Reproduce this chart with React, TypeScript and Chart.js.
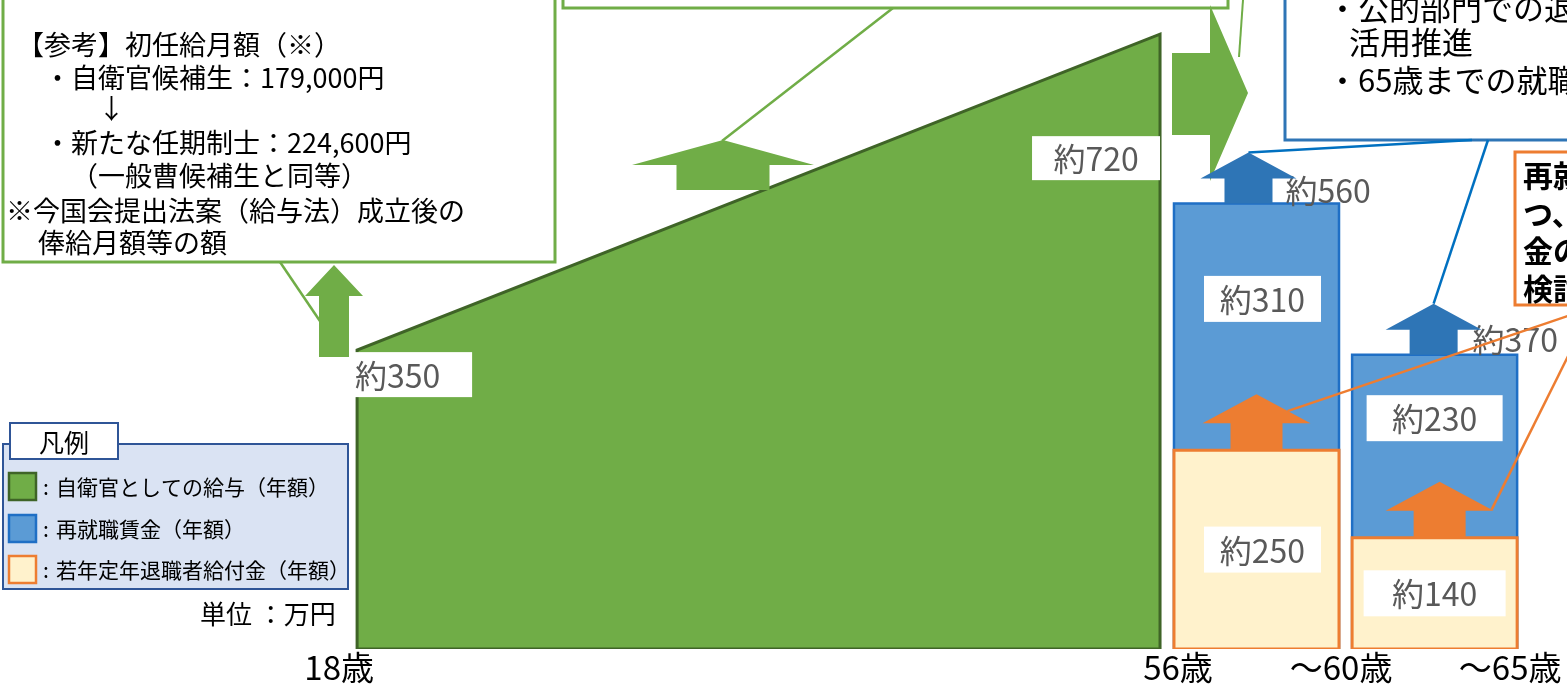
import React, { useEffect, useRef } from 'react';
import { Chart, registerables } from 'chart.js';

Chart.register(...registerables);

const FONT = '"Noto Sans CJK JP", "Noto Sans", sans-serif';

// schematic timeline axis (display units)
const stageTickLabels = ['18歳', '56歳', '～60歳', '～65歳'];
const stageTickPositions = [17.15, 56.85, 64.57, 72.57];
const X_MIN = 1.1;
const X_MAX = 75.26;

// 自衛官としての給与（年額）
const careerAges = [18, 56];
const careerSalary = [350, 720];

// 56歳以降の期間（表示上の区間）
const postStageStart = [56.66, 65.09];
const postStageEnd = [64.47, 72.9];
const retirementBenefit = [250, 140]; // 若年定年退職者給付金（年額）
const reemploymentWage = [310, 230]; // 再就職賃金（年額）

const SALARY_AXIS_MAX = 760;
const POST_AXIS_MAX = 816;

const legendLabels = ['自衛官としての給与（年額）', '再就職賃金（年額）', '若年定年退職者給付金（年額）'];

const GREEN = '#70ad47';
const GREEN_DARK = '#3f6427';
const BLUE_FILL = '#5b9bd5';
const BLUE_BORDER = '#1f6fc5';
const BLUE_ARROW = '#2e75b6';
const ORANGE = '#ed7d31';
const CREAM = '#fff2cc';
const LABEL_GRAY = '#595959';
const TRANSPARENT = 'rgba(0,0,0,0)';

const totals = retirementBenefit.map((b, i) => b + reemploymentWage[i]);

function rectOutline(i: number, lo: number, hi: number) {
  return [
    { x: postStageStart[i], y: lo },
    { x: postStageStart[i], y: hi },
    { x: postStageEnd[i], y: hi },
    { x: postStageEnd[i], y: lo },
    { x: postStageStart[i], y: lo },
  ];
}

function buildDatasets() {
  const base: any = { pointRadius: 0, pointHoverRadius: 0, tension: 0, borderJoinStyle: 'miter' };
  const ds: any[] = [];
  postStageStart.forEach((_, i) => {
    ds.push({ ...base, label: '若年定年退職者給付金 枠', yAxisID: 'y2', data: rectOutline(i, 0, retirementBenefit[i]), borderColor: ORANGE, borderWidth: 3, fill: false });
  });
  postStageStart.forEach((s, i) => {
    ds.push({ ...base, label: '若年定年退職者給付金', yAxisID: 'y2', data: [{ x: s, y: retirementBenefit[i] }, { x: postStageEnd[i], y: retirementBenefit[i] }], borderColor: TRANSPARENT, borderWidth: 0, fill: 'origin', backgroundColor: CREAM });
  });
  postStageStart.forEach((_, i) => {
    ds.push({ ...base, label: '再就職賃金 枠', yAxisID: 'y2', data: rectOutline(i, 0, totals[i]), borderColor: BLUE_BORDER, borderWidth: 2.5, fill: false });
  });
  postStageStart.forEach((s, i) => {
    ds.push({ ...base, label: '再就職賃金', yAxisID: 'y2', data: [{ x: s, y: totals[i] }, { x: postStageEnd[i], y: totals[i] }], borderColor: TRANSPARENT, borderWidth: 0, fill: 'origin', backgroundColor: BLUE_FILL });
  });
  ds.push({
    ...base, label: '自衛官としての給与 枠', yAxisID: 'y',
    data: [
      { x: careerAges[0], y: 0 }, { x: careerAges[0], y: careerSalary[0] },
      { x: careerAges[1], y: careerSalary[1] }, { x: careerAges[1], y: 0 }, { x: careerAges[0], y: 0 },
    ],
    borderColor: GREEN_DARK, borderWidth: 3, fill: false,
  });
  ds.push({
    ...base, label: '自衛官としての給与', yAxisID: 'y',
    data: careerAges.map((a, i) => ({ x: a, y: careerSalary[i] })),
    borderColor: TRANSPARENT, borderWidth: 0, fill: 'origin', backgroundColor: GREEN,
  });
  return ds;
}

function txt(ctx: CanvasRenderingContext2D, s: string, x: number, y: number, size: number, color = '#000', align: CanvasTextAlign = 'left', weight = 'normal') {
  ctx.font = `${weight} ${size}px ${FONT}`;
  ctx.fillStyle = color;
  ctx.textAlign = align;
  ctx.textBaseline = 'middle';
  ctx.fillText(s, x, y);
}

function upArrow(ctx: CanvasRenderingContext2D, cx: number, tipY: number, bottomY: number, headW: number, shaftW: number, headH: number, color: string) {
  ctx.beginPath();
  ctx.moveTo(cx, tipY);
  ctx.lineTo(cx + headW / 2, tipY + headH);
  ctx.lineTo(cx + shaftW / 2, tipY + headH);
  ctx.lineTo(cx + shaftW / 2, bottomY);
  ctx.lineTo(cx - shaftW / 2, bottomY);
  ctx.lineTo(cx - shaftW / 2, tipY + headH);
  ctx.lineTo(cx - headW / 2, tipY + headH);
  ctx.closePath();
  ctx.fillStyle = color;
  ctx.fill();
}

function line(ctx: CanvasRenderingContext2D, x1: number, y1: number, x2: number, y2: number, color: string, w: number) {
  ctx.beginPath();
  ctx.moveTo(x1, y1);
  ctx.lineTo(x2, y2);
  ctx.strokeStyle = color;
  ctx.lineWidth = w;
  ctx.stroke();
}

function box(ctx: CanvasRenderingContext2D, x: number, y: number, w: number, h: number, fill: string, stroke: string, lw: number) {
  ctx.fillStyle = fill;
  ctx.fillRect(x, y, w, h);
  ctx.strokeStyle = stroke;
  ctx.lineWidth = lw;
  ctx.strokeRect(x, y, w, h);
}

function valueBox(ctx: CanvasRenderingContext2D, s: string, x: number, y: number, w: number, h: number, align: CanvasTextAlign = 'center') {
  ctx.fillStyle = '#fff';
  ctx.fillRect(x, y, w, h);
  txt(ctx, s, align === 'left' ? x + 3 : x + w / 2, y + h / 2 + 1, 32, LABEL_GRAY, align);
}

const infographicPlugin = {
  id: 'infographic',
  afterDraw(chart: any) {
    const ctx: CanvasRenderingContext2D = chart.ctx;
    const xs = chart.scales.x;
    const ys = chart.scales.y;
    const y2 = chart.scales.y2;
    ctx.save();
    ctx.lineJoin = 'miter';

    // ---- top-left reference box ----
    line(ctx, 280, 262, 326, 330, GREEN, 2.5);
    box(ctx, 3, -10, 552, 272, '#fff', GREEN, 3);
    const refLines: [string, number, number][] = [
      ['【参考】初任給月額（※）', 17, 45],
      ['・自衛官候補生：179,000円', 44, 78],
      ['↓', 98, 109],
      ['・新たな任期制士：224,600円', 44, 143],
      ['（一般曹候補生と同等）', 71, 176],
      ['※今国会提出法案（給与法）成立後の', 6, 211],
      ['俸給月額等の額', 38, 243],
    ];
    refLines.forEach(([s, x, y]) => txt(ctx, s, x, y, 27));

    // ---- top-middle box ----
    line(ctx, 893, 8, 722, 141, GREEN, 2.5);
    box(ctx, 563, -10, 665, 18, '#fff', GREEN, 3);
    line(ctx, 1243, 0, 1239, 57, GREEN, 2);

    // ---- green arrows ----
    upArrow(ctx, 334, 265, 357, 58, 30, 31, GREEN);
    upArrow(ctx, 723, 140, 190, 182, 93, 25, GREEN);
    ctx.beginPath();
    ctx.moveTo(1172, 53);
    ctx.lineTo(1210, 53);
    ctx.lineTo(1210, 5);
    ctx.lineTo(1248, 93);
    ctx.lineTo(1210, 181);
    ctx.lineTo(1210, 135);
    ctx.lineTo(1172, 135);
    ctx.closePath();
    ctx.fillStyle = GREEN;
    ctx.fill();

    // ---- top-right blue box ----
    box(ctx, 1285, -10, 330, 150, '#fff', BLUE_ARROW, 3);
    txt(ctx, '・公的部門での退職自衛官の', 1327, 8, 31);
    txt(ctx, '活用推進', 1349, 42, 31);
    txt(ctx, '・65歳までの就職援護', 1327, 80, 31);

    // ---- orange box ----
    box(ctx, 1515, 152, 100, 153, '#fff', ORANGE, 3);
    txt(ctx, '再就職賃金の状況を', 1523, 176, 30, '#000', 'left', 'bold');
    txt(ctx, 'つ、若年定年退職者', 1523, 214, 30, '#000', 'left', 'bold');
    txt(ctx, '金の在り方を', 1523, 251, 30, '#000', 'left', 'bold');
    txt(ctx, '検討', 1523, 289, 30, '#000', 'left', 'bold');

    // ---- post-56 bars geometry ----
    const bars = postStageStart.map((s, i) => {
      const l = xs.getPixelForValue(s);
      const r = xs.getPixelForValue(postStageEnd[i]);
      return {
        cx: (l + r) / 2,
        base: y2.getPixelForValue(0),
        orangeTop: y2.getPixelForValue(retirementBenefit[i]),
        blueTop: y2.getPixelForValue(totals[i]),
      };
    });
    const oA = { h: 56, headH: 29, headW: 108, shaftW: 52, dx: [0, 5] };
    const bA = { h: 51, headH: 26, headW: 96, shaftW: 48, dx: [-8, -1] };
    const blueOrigins = [1472, 1488];

    // value labels in bars
    const blueW = [117, 136];
    const orangeW = [117, 142];
    const labelDx = [6, 0];
    bars.forEach((b, i) => {
      const oTip = b.orangeTop - oA.h;
      const bc = (b.blueTop + oTip) / 2;
      valueBox(ctx, '約' + reemploymentWage[i], b.cx + labelDx[i] - blueW[i] / 2, bc - 23, blueW[i], 46);
      const oc = (b.orangeTop + b.base) / 2;
      valueBox(ctx, '約' + retirementBenefit[i], b.cx + labelDx[i] - orangeW[i] / 2, oc - 23, orangeW[i], 46);
    });

    // totals
    txt(ctx, '約' + totals[0], bars[0].cx + 29, bars[0].blueTop - 13, 32, LABEL_GRAY);
    txt(ctx, '約' + totals[1], bars[1].cx + 38, bars[1].blueTop - 15, 32, LABEL_GRAY);

    // blue callouts + arrows
    bars.forEach((b, i) => {
      const tip = b.blueTop - bA.h;
      line(ctx, blueOrigins[i], 140, b.cx + bA.dx[i], tip, '#0070c0', 2.5);
      upArrow(ctx, b.cx + bA.dx[i], tip, b.blueTop, bA.headW, bA.shaftW, bA.headH, BLUE_ARROW);
    });

    // orange callouts + arrows
    bars.forEach((b, i) => {
      const cx = b.cx + oA.dx[i];
      const tip = b.orangeTop - oA.h;
      if (i === 0) line(ctx, cx + 31, tip + 17, 1600, 305, ORANGE, 2.5);
      else line(ctx, cx + oA.headW / 2 - 2, tip + oA.headH - 1, 1596, 300, ORANGE, 2.5);
      upArrow(ctx, cx, tip, b.orangeTop, oA.headW, oA.shaftW, oA.headH, ORANGE);
    });

    // green value labels
    const gx0 = xs.getPixelForValue(careerAges[0]);
    const gx1 = xs.getPixelForValue(careerAges[1]);
    const gy0 = ys.getPixelForValue(careerSalary[0]);
    const gy1 = ys.getPixelForValue(careerSalary[1]);
    valueBox(ctx, '約' + careerSalary[0], gx0 - 5, gy0 + 2, 120, 45, 'left');
    valueBox(ctx, '約' + careerSalary[1], gx1 - 128, gy1 + 102, 128, 44);

    // ---- legend ----
    box(ctx, 3, 444, 345, 145, '#dae3f3', '#2f5597', 2);
    box(ctx, 10, 423, 108, 36, '#fff', '#2f5597', 2);
    txt(ctx, '凡例', 64, 442, 25, '#000', 'center');
    const sw = [
      [GREEN, GREEN_DARK, 473],
      [BLUE_FILL, BLUE_BORDER, 515],
      [CREAM, ORANGE, 556],
    ] as [string, string, number][];
    sw.forEach(([f, s, y], i) => {
      box(ctx, 9, y, 27, 27, f, s, 2.5);
      txt(ctx, ':', 43, y + 14, 21);
      txt(ctx, legendLabels[i], 56, y + 14, 21);
    });
    txt(ctx, '単位 ：万円', 200, 614, 26);

    ctx.restore();
  },
};

export default function App() {
  const ref = useRef<HTMLCanvasElement | null>(null);
  useEffect(() => {
    document.body.style.margin = '0';
    Chart.defaults.font.family = FONT;
    const canvas = ref.current!;
    const chart = new Chart(canvas, {
      type: 'line',
      data: { datasets: buildDatasets() },
      options: {
        responsive: false,
        animation: false,
        devicePixelRatio: 1,
        events: [],
        layout: { padding: 0 },
        plugins: { legend: { display: false }, tooltip: { enabled: false }, title: { display: false } },
        scales: {
          x: {
            type: 'linear',
            min: X_MIN,
            max: X_MAX,
            grid: { display: false, drawTicks: false },
            border: { display: false },
            afterBuildTicks: (axis: any) => {
              axis.ticks = stageTickPositions.map((v) => ({ value: v }));
            },
            ticks: {
              autoSkip: false,
              maxRotation: 0,
              minRotation: 0,
              padding: 4,
              color: '#000',
              font: { size: 33, lineHeight: 28 / 33, family: FONT },
              callback: (_v: any, i: number) => stageTickLabels[i],
            },
          },
          y: { type: 'linear', display: false, min: 0, max: SALARY_AXIS_MAX },
          y2: { type: 'linear', display: false, min: 0, max: POST_AXIS_MAX },
        },
      } as any,
      plugins: [infographicPlugin],
    });
    return () => chart.destroy();
  }, []);
  return (
    <div style={{ width: 1567, height: 685, position: 'relative', background: '#fff' }}>
      <canvas ref={ref} width={1567} height={685} style={{ display: 'block' }} />
    </div>
  );
}
